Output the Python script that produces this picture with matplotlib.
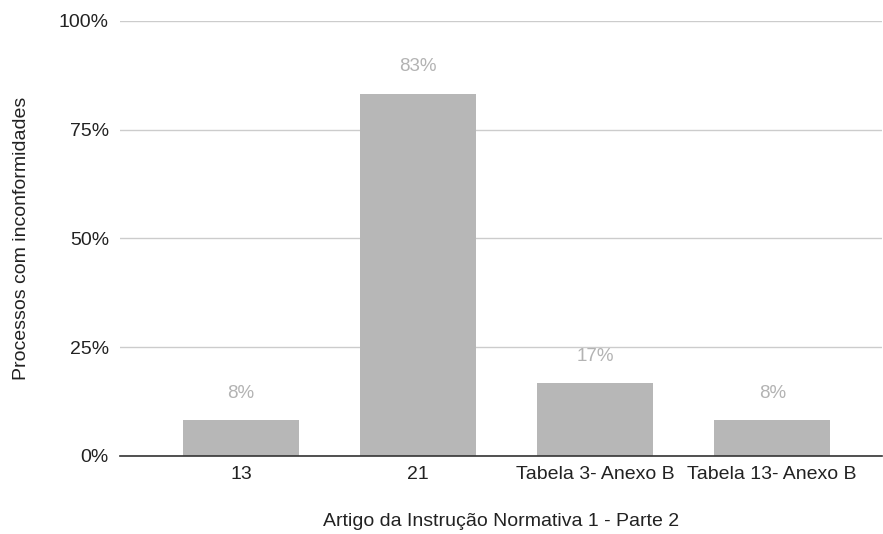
import matplotlib
matplotlib.use("Agg")
import matplotlib.pyplot as plt
from matplotlib.ticker import FuncFormatter

categories = ["13", "21", "Tabela 3- Anexo B", "Tabela 13- Anexo B"]
values = [8.33, 83.33, 16.67, 8.33]
labels = ["8%", "83%", "17%", "8%"]
yticks = [0, 25, 50, 75, 100]

plt.rcParams['font.family'] = ['Liberation Sans', 'DejaVu Sans']

W, H = 883, 534
fig = plt.figure(figsize=(W / 100, H / 100), dpi=100)
ax = fig.add_axes([120 / W, 1 - 456 / H, (882 - 120) / W, (456 - 21) / H])

x = list(range(len(categories)))
ax.bar(x, values, width=0.655, color="#b7b7b7", zorder=3)
for xi, v, lab in zip(x, values, labels):
    ax.annotate(lab, (xi, v), xytext=(0, 13), textcoords="offset points",
                ha="center", va="bottom", fontsize=13.5, color="#b3b3b3")

ax.set_xlim(-0.684, 3.62)
ax.set_ylim(0, 100)
ax.set_yticks(yticks)
ax.yaxis.set_major_formatter(FuncFormatter(lambda v, p: f"{int(v)}%"))
ax.set_xticks(x)
ax.set_xticklabels(categories)
ax.grid(axis="y", color="#cccccc", linewidth=1, zorder=0)
for s in ["top", "right", "left"]:
    ax.spines[s].set_visible(False)
ax.spines["bottom"].set_color("#333333")
ax.spines["bottom"].set_linewidth(1.2)
ax.spines["bottom"].set_zorder(4)
ax.tick_params(axis="both", length=0, labelsize=14, colors="#222222")
ax.tick_params(axis="y", pad=8)
ax.tick_params(axis="x", pad=7)
ax.set_xlabel("Artigo da Instrução Normativa 1 - Parte 2", fontsize=14,
              color="#222222", labelpad=22)
ax.set_ylabel("Processos com inconformidades", fontsize=14, color="#222222",
              labelpad=21)

fig.savefig("out.png", dpi=100, facecolor="white")
